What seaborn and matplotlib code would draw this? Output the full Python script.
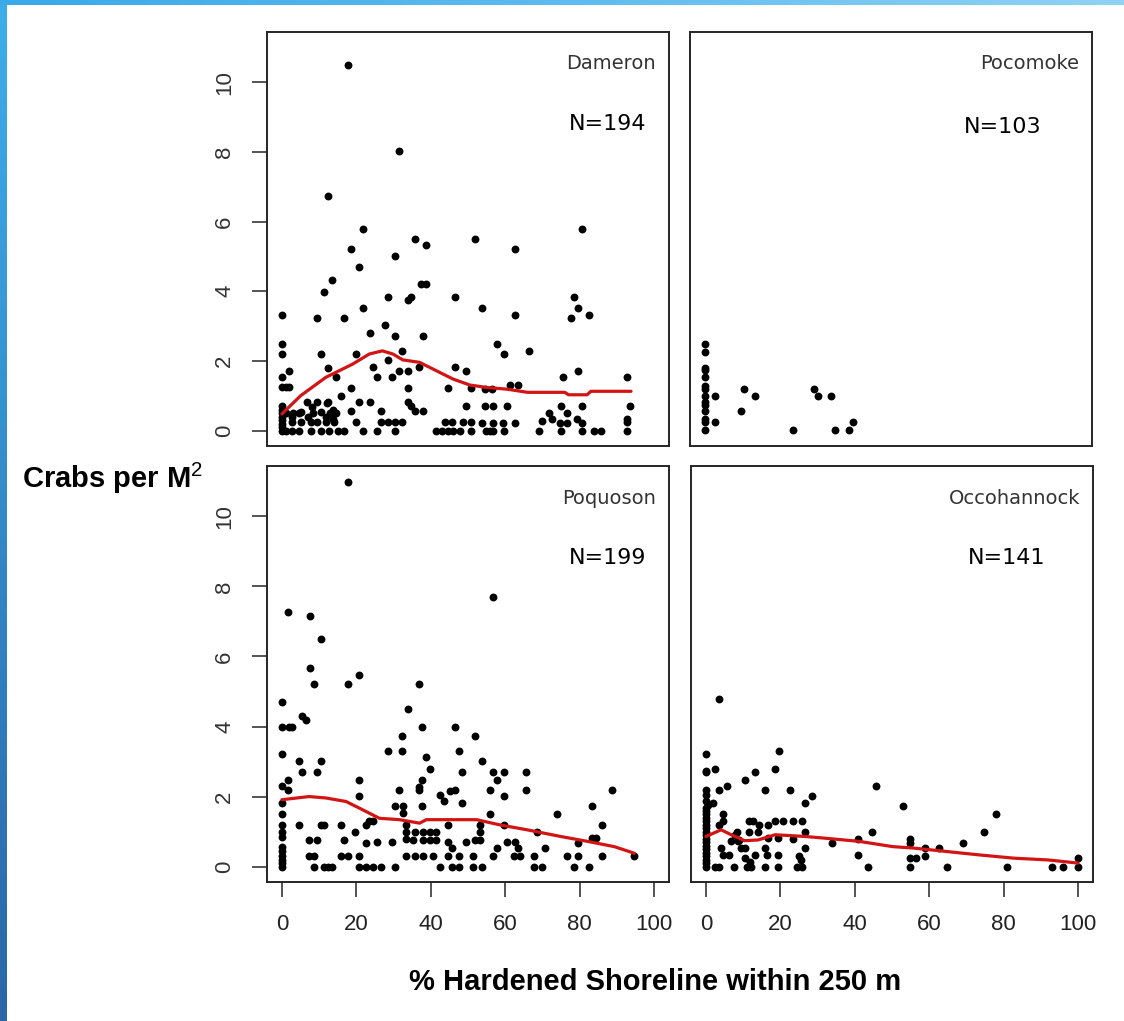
import numpy as np
import pandas as pd
import matplotlib.pyplot as plt
import seaborn as sns

# ---- valores ----
sites = ["Dameron", "Pocomoke", "Poquoson", "Occohannock"]
sample_sizes = [194, 103, 199, 141]
x_ticks = [0, 20, 40, 60, 80, 100]
y_ticks = [0, 2, 4, 6, 8, 10]

dameron_x = [17.7, 31.4, 12.4, 21.7, 18.7, 20.6, 13.4, 11.4, 0, 9.5, 16.8, 21.7, 28.5, 33.9, 34.8,
             30.4, 35.8, 38.6, 37.4, 38.6, 46.6, 51.9, 53.7, 62.5, 62.5, 80.5, 78.5, 79.5, 77.6, 82.5,
             0, 0, 10.5, 19.8, 23.7, 27.6, 30.4, 32.4, 37.8, 57.7, 59.6, 66.4, 1.9, 0, 0, 1.0, 1.9,
             12.4, 14.5, 24.6, 25.6, 28.5, 29.5, 31.4, 33.9, 33.9, 36.8, 46.6, 49.5, 44.6, 50.8,
             54.6, 56.4, 61.4, 63.4, 75.6, 79.5, 92.7, 18.7, 15.9,
             20.8, 23.7, 6.7, 9.5, 12.4, 33.9, 34.8, 35.8, 37.8, 49.5, 54.7, 56.8, 60.5, 74.9, 80.5,
             93.6, 71.7, 76.7, 18.7, 26.6, 2.8, 7.1, 10.5, 11.8, 13.8, 5.0, 8.2, 1.1, 2.9, 4.7, 8.3,
             12.8, 14.6, 12.2, 13.7, 72.5, 79.2, 92.7,
             0, 0, 0, 0, 0, 0, 0, 0,
             2.8, 5.0, 7.7, 9.5, 11.8, 14.1, 19.9, 26.7, 28.5, 30.4, 32.4, 43.8, 45.6, 48.7, 50.8,
             53.7, 56.8, 59.5, 62.5, 69.9, 74.7, 76.5, 80.5, 92.7,
             1.0, 2.8, 4.6, 7.7, 10.5, 12.7, 15.0, 16.8, 21.7, 25.6, 30.4, 41.5, 42.9, 44.7, 46.0,
             47.8, 50.8, 54.9, 55.8, 56.8, 59.7, 69.0, 74.9, 80.5, 83.9, 85.7, 92.7]
dameron_y = [10.49, 8.02, 6.72, 5.80, 5.22, 4.71, 4.31, 3.99, 3.33, 3.23, 3.23, 3.53, 3.84, 3.74, 3.84,
             5.02, 5.49, 5.34, 4.20, 4.20, 3.84, 5.49, 3.53, 5.22, 3.33, 5.80, 3.84, 3.53, 3.23, 3.33,
             2.50, 2.20, 2.20, 2.20, 2.81, 3.02, 2.71, 2.29, 2.71, 2.50, 2.20, 2.29, 1.72, 1.53, 1.24, 1.24, 1.24,
             1.81, 1.53, 1.84, 1.53, 2.03, 1.53, 1.72, 1.72, 1.21, 1.84, 1.84, 1.72, 1.21, 1.21,
             1.19, 1.19, 1.31, 1.31, 1.53, 1.72, 1.53, 1.21, 1.00,
             0.81, 0.81, 0.81, 0.81, 0.81, 0.81, 0.72, 0.57, 0.57, 0.70, 0.70, 0.70, 0.70, 0.70, 0.70,
             0.70, 0.52, 0.52, 0.57, 0.57, 0.38, 0.38, 0.53, 0.38, 0.33, 0.53, 0.67, 0.52, 0.52, 0.52, 0.52,
             0.52, 0.52, 0.78, 0.60, 0.33, 0.33, 0.33,
             0.0, 0.1, 0.2, 0.3, 0.4, 0.5, 0.6, 0.7,
             0.24, 0.24, 0.24, 0.24, 0.24, 0.24, 0.24, 0.24, 0.24, 0.24, 0.24, 0.24, 0.24, 0.24, 0.24,
             0.21, 0.21, 0.21, 0.21, 0.28, 0.21, 0.21, 0.21, 0.24,
             0.0, 0.0, 0.0, 0.0, 0.0, 0.0, 0.0, 0.0, 0.0, 0.0, 0.0, 0.0, 0.0, 0.0, 0.0,
             0.0, 0.0, 0.0, 0.0, 0.0, 0.0, 0.0, 0.0, 0.0, 0.0, 0.0, 0.0]

pocomoke_x = [0, 0, 0, 0, 0, 0, 0, 0, 0, 0, 0, 0, 0, 0,
              2.8, 2.8, 10.5, 13.5, 9.6, 23.7, 29.4, 30.5, 34.0, 34.9, 38.8, 39.8]
pocomoke_y = [2.50, 2.27, 1.81, 1.74, 1.53, 1.29, 1.19, 1.00, 0.81, 0.74, 0.55, 0.33, 0.24, 0.02,
              1.00, 0.24, 1.19, 1.00, 0.55, 0.02, 1.19, 1.00, 1.00, 0.02, 0.02, 0.24]

poquoson_x = [17.7, 56.7, 1.7, 7.6, 10.5, 7.6, 8.5, 17.7, 20.6, 36.8, 0, 5.5, 6.6, 0, 1.9, 2.8,
              33.9, 37.7, 46.6, 32.4, 51.9, 28.5, 32.4, 0, 38.6, 47.5, 4.6, 10.5, 5.5, 9.5, 53.7,
              39.7, 48.4, 56.7, 57.7, 59.6, 65.5, 0, 1.7, 1.7, 20.6, 20.6, 31.4, 36.8, 36.8, 37.7,
              42.4, 43.6, 45.1, 46.5, 48.4, 55.8, 59.6, 65.5, 88.8, 0, 0, 0, 0, 30.3, 32.5, 32.5,
              37.7, 55.8, 73.8, 83.4, 85.9, 4.6, 10.5, 11.4, 15.9, 19.7, 22.6, 23.5, 24.6, 33.4,
              33.4, 35.7, 37.9, 39.7, 41.5, 44.6, 53.2, 53.2, 59.6, 68.6,
              7.3, 9.5, 16.8, 22.6, 25.6, 29.5, 33.4, 35.1, 37.9, 39.7, 41.5, 44.6, 45.6, 49.5,
              51.9, 53.2, 57.7, 60.5, 62.7, 63.4, 70.8, 79.5, 83.4, 84.3,
              0, 7.3, 8.5, 15.9, 17.7, 20.6, 33.4, 35.7, 37.9, 40.6, 44.6, 47.5, 51.4, 56.8, 62.3,
              64.1, 67.7, 76.7, 79.5, 85.9, 94.7,
              0, 8.5, 11.4, 12.4, 13.4, 20.6, 22.6, 24.6, 26.6, 30.4, 42.4, 45.6, 47.5, 51.4, 53.7,
              67.7, 69.9, 78.5, 82.5, 0, 0, 0, 0, 0]
poquoson_y = [10.98, 7.69, 7.28, 7.17, 6.50, 5.68, 5.22, 5.22, 5.48, 5.22, 4.71, 4.30, 4.20, 3.98, 3.98, 3.98,
              4.51, 3.98, 3.98, 3.72, 3.72, 3.31, 3.31, 3.22, 3.12, 3.31, 3.01, 3.01, 2.69, 2.69, 3.01,
              2.80, 2.69, 2.69, 2.48, 2.69, 2.69, 2.29, 2.48, 2.18, 2.48, 2.02, 2.18, 2.27, 2.18, 2.48,
              2.05, 1.86, 2.15, 2.18, 1.81, 2.18, 2.02, 2.18, 2.18, 1.81, 1.51, 1.19, 1.00, 1.72, 1.72, 1.53,
              1.72, 1.51, 1.51, 1.72, 1.19, 1.19, 1.19, 1.19, 1.19, 1.00, 1.19, 1.29, 1.29, 1.19,
              1.00, 1.00, 1.00, 1.00, 1.00, 1.19, 1.19, 1.00, 1.19, 1.00,
              0.76, 0.76, 0.76, 0.67, 0.70, 0.70, 0.80, 0.76, 0.76, 0.76, 0.76, 0.70, 0.53, 0.70,
              0.76, 0.76, 0.53, 0.70, 0.70, 0.53, 0.53, 0.67, 0.81, 0.81,
              0.29, 0.29, 0.29, 0.29, 0.29, 0.29, 0.29, 0.29, 0.29, 0.29, 0.29, 0.29, 0.29, 0.29, 0.29,
              0.29, 0.29, 0.29, 0.29, 0.29, 0.29,
              0.0, 0.0, 0.0, 0.0, 0.0, 0.0, 0.0, 0.0, 0.0, 0.0, 0.0, 0.0, 0.0, 0.0, 0.0,
              0.0, 0.0, 0.0, 0.0, 0.1, 0.2, 0.45, 0.55, 0.85]

occohannock_x = [3.6, 0, 19.7, 0, 0, 2.5, 18.7, 13.3, 10.4, 5.6, 3.6, 0, 0, 15.8, 22.7, 45.7,
                 28.5, 26.5, 0, 0.5, 1.8, 0, 52.9, 78.0, 4.5, 3.6, 4.5, 11.5, 12.7, 14.2, 16.7,
                 18.6, 20.8, 23.5, 25.8, 0, 0, 8.4, 11.5, 14.0, 26.5, 44.5, 74.8, 6.8, 8.6, 16.7,
                 19.5, 23.5, 33.9, 40.8, 54.8, 54.8, 69.1, 9.5, 10.4, 15.8, 4.1, 26.5, 58.8, 62.7,
                 4.5, 6.3, 13.3, 16.3, 19.5, 24.9, 25.6, 40.8, 54.8, 56.5, 58.8, 100, 10.4, 11.8,
                 7.7, 9.0,
                 0, 2.5, 3.6, 7.5, 11.1, 12.2, 15.8, 19.5, 24.4, 25.8, 43.6, 54.8, 64.7, 80.8, 92.9,
                 95.9, 100,
                 0, 0, 0, 0, 0, 0, 0, 0, 0, 0, 0, 0, 0, 0]
occohannock_y = [4.80, 3.22, 3.31, 2.74, 2.69, 2.80, 2.80, 2.69, 2.48, 2.29, 2.18, 2.18, 2.05, 2.18, 2.18, 2.29,
                 2.02, 1.81, 1.86, 1.77, 1.81, 1.67, 1.72, 1.51, 1.51, 1.19, 1.29, 1.29, 1.29, 1.19, 1.19,
                 1.29, 1.29, 1.29, 1.29, 1.19, 1.00, 1.00, 1.00, 1.00, 1.00, 1.00, 1.00, 0.72, 0.72, 0.81,
                 0.81, 0.78, 0.67, 0.78, 0.78, 0.67, 0.67, 0.53, 0.53, 0.53, 0.53, 0.53, 0.53, 0.53,
                 0.33, 0.33, 0.33, 0.33, 0.33, 0.29, 0.19, 0.32, 0.24, 0.24, 0.29, 0.24, 0.24, 0.14,
                 0.91, 0.76,
                 0.0, 0.0, 0.0, 0.0, 0.0, 0.0, 0.0, 0.0, 0.0, 0.0, 0.0, 0.0, 0.0, 0.0, 0.0,
                 0.0, 0.0,
                 0.1, 0.2, 0.3, 0.4, 0.5, 0.6, 0.7, 0.8, 0.9, 1.1, 1.3, 1.4, 1.5, 1.6]

# curvas suavizadas (lowess)
dameron_fit_x = [0, 5, 11.8, 19, 23.5, 27, 29.8, 32.5, 37, 41.5, 46, 50.5, 55, 60.5, 66, 76, 77, 82, 83, 93.8]
dameron_fit_y = [0.48, 1.0, 1.53, 1.91, 2.2, 2.29, 2.2, 2.03, 1.96, 1.72, 1.48, 1.31, 1.24, 1.19, 1.10,
                 1.10, 1.03, 1.03, 1.13, 1.13]
poquoson_fit_x = [0, 7.3, 11.8, 17.2, 20.8, 26.2, 31.6, 37, 38.8, 52.3, 58.6, 65.9, 74.9, 82.1, 89.3, 94.7]
poquoson_fit_y = [1.91, 2.0, 1.96, 1.86, 1.67, 1.38, 1.34, 1.24, 1.34, 1.34, 1.19, 1.05, 0.86, 0.72, 0.57, 0.38]
occohannock_fit_x = [0, 4.1, 6.8, 10.4, 14, 18.6, 26.7, 32.1, 41.2, 50.2, 55.7, 64.7, 73.8, 82.8, 91.9, 100]
occohannock_fit_y = [0.86, 1.05, 0.91, 0.74, 0.76, 0.91, 0.86, 0.81, 0.72, 0.57, 0.53, 0.43, 0.33, 0.24, 0.19, 0.10]

points = {
    "Dameron": (dameron_x, dameron_y),
    "Pocomoke": (pocomoke_x, pocomoke_y),
    "Poquoson": (poquoson_x, poquoson_y),
    "Occohannock": (occohannock_x, occohannock_y),
}
fits = {
    "Dameron": (dameron_fit_x, dameron_fit_y),
    "Poquoson": (poquoson_fit_x, poquoson_fit_y),
    "Occohannock": (occohannock_fit_x, occohannock_fit_y),
}

sns.set_style("white")
plt.rcParams["font.family"] = ["DejaVu Sans"]
plt.rcParams["mathtext.fontset"] = "custom"
plt.rcParams["mathtext.rm"] = "Liberation Sans"

W, H = 1124, 1021
fig = plt.figure(figsize=(W / 100, H / 100), dpi=100)
fig.patch.set_facecolor("white")

# marco azul de la diapositiva
left_bar = fig.add_axes([0, 0, 7 / W, 1])
left_bar.imshow(np.linspace(0, 1, 256).reshape(-1, 1), aspect="auto",
                cmap=plt.matplotlib.colors.LinearSegmentedColormap.from_list("lb", ["#3eaeea", "#2a66a8"]))
left_bar.axis("off")
top_bar = fig.add_axes([0, 1 - 5 / H, 1, 5 / H])
top_bar.imshow(np.linspace(0, 1, 256).reshape(1, -1), aspect="auto",
               cmap=plt.matplotlib.colors.LinearSegmentedColormap.from_list("tb", ["#3aa9e8", "#5dbcf0", "#90d2f5"]))
top_bar.axis("off")

# posiciones de los paneles (px)
boxes = {
    "Dameron": (267, 32, 669, 446),
    "Pocomoke": (690, 32, 1092, 446),
    "Poquoson": (267, 466, 669, 882),
    "Occohannock": (691, 466, 1093, 882),
}
n_pos = {
    "Dameron": (0.848, 0.778),
    "Pocomoke": (0.779, 0.771),
    "Poquoson": (0.848, 0.779),
    "Occohannock": (0.786, 0.779),
}
arial = ["Liberation Sans", "DejaVu Sans"]

for site, n in zip(sites, sample_sizes):
    l, t, r, b = boxes[site]
    ax = fig.add_axes([l / W, 1 - b / H, (r - l) / W, (b - t) / H])
    xs, ys = points[site]
    df = pd.DataFrame({"hardened": xs, "crabs": ys})
    sns.scatterplot(data=df, x="hardened", y="crabs", ax=ax, color="black",
                    s=32, linewidth=0, legend=False, zorder=3)
    if site in fits:
        fx, fy = fits[site]
        sns.lineplot(x=fx, y=fy, ax=ax, color="#d21414", linewidth=2.3,
                     errorbar=None, zorder=4)
    ax.set_xlim(-4, 104)
    ax.set_ylim(-0.44, 11.44)
    ax.set_xlabel("")
    ax.set_ylabel("")
    for sp in ax.spines.values():
        sp.set_color("#262626")
        sp.set_linewidth(1.4)

    if site in ("Poquoson", "Occohannock"):
        ax.set_xticks(x_ticks)
        ax.set_xticklabels([str(v) for v in x_ticks], family=arial, fontsize=16, color="#222222")
        ax.tick_params(axis="x", direction="out", length=11, width=1.1, pad=12, color="#262626", bottom=True)
    else:
        ax.set_xticks([])
    if site in ("Dameron", "Poquoson"):
        ax.set_yticks(y_ticks)
        ax.set_yticklabels([str(v) for v in y_ticks], family=arial, fontsize=16, color="#333333",
                           rotation=90, va="center")
        ax.tick_params(axis="y", direction="out", length=11, width=1.1, pad=12, color="#262626", left=True)
    else:
        ax.set_yticks([])

    ax.text(0.968, 0.923, site, transform=ax.transAxes, ha="right", va="center",
            fontsize=14, color="#333333")
    ax.text(n_pos[site][0], n_pos[site][1], f"N={n}", transform=ax.transAxes,
            ha="center", va="center", fontsize=16, color="black")

fig.text(22 / W, 1 - 478 / H, r"Crabs per M$^{\mathrm{2}}$", ha="left", va="center",
         fontsize=21, fontweight="bold", family=arial, color="black")
fig.text(655 / W, 1 - 982 / H, "% Hardened Shoreline within 250 m", ha="center", va="center",
         fontsize=21, fontweight="bold", family=arial, color="black")

fig.savefig("out.png", dpi=100, facecolor="white")
